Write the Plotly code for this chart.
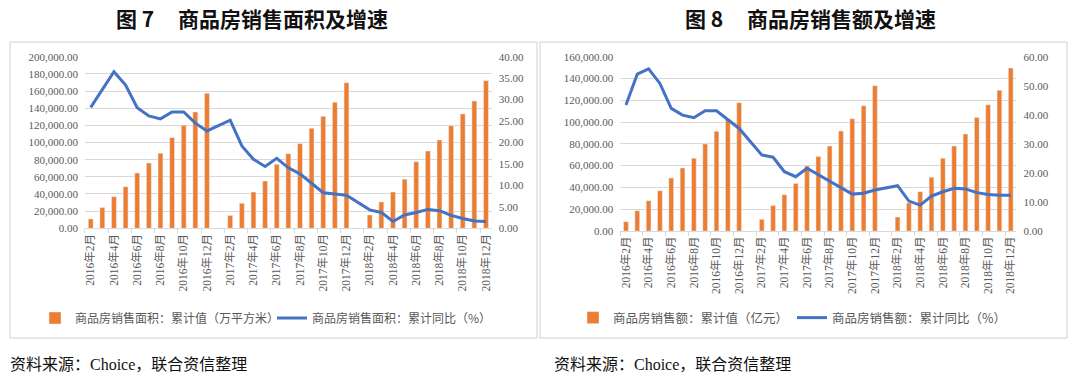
import plotly.graph_objects as go

months = ["2016年2月", "2016年3月", "2016年4月", "2016年5月", "2016年6月", "2016年7月",
          "2016年8月", "2016年9月", "2016年10月", "2016年11月", "2016年12月",
          "2017年1月", "2017年2月", "2017年3月", "2017年4月", "2017年5月", "2017年6月",
          "2017年7月", "2017年8月", "2017年9月", "2017年10月", "2017年11月", "2017年12月",
          "2018年1月", "2018年2月", "2018年3月", "2018年4月", "2018年5月", "2018年6月",
          "2018年7月", "2018年8月", "2018年9月", "2018年10月", "2018年11月", "2018年12月"]

area_cum = [10950, 24100, 36900, 48500, 64500, 76100, 87400, 105600, 120000, 135500, 157300,
            None, 14800, 29100, 42300, 55100, 74600, 87000, 98600, 116500, 130500, 146800, 169700,
            None, 15500, 30700, 42300, 57100, 77700, 90000, 102900, 119600, 133200, 148300, 172000]
area_yoy = [28.2, 32.5, 36.5, 33.4, 28.1, 26.2, 25.5, 27.1, 27.1, 24.5, 22.7,
            None, 25.2, 19.2, 16.1, 14.4, 16.3, 14.1, 12.7, 10.5, 8.3, 8.0, 7.7,
            None, 4.3, 3.7, 1.6, 3.1, 3.7, 4.4, 4.1, 3.0, 2.3, 1.7, 1.6]

sales_cum = [8600, 18700, 27800, 37000, 48600, 57800, 66700, 79800, 91500, 102500, 117800,
             None, 10700, 23300, 33300, 43700, 59700, 68500, 78000, 91800, 103100, 115000, 133400,
             None, 12800, 25700, 36100, 49300, 66700, 78000, 89000, 104300, 115900, 129100, 149600]
sales_yoy = [43.4, 54.0, 55.8, 50.8, 42.2, 39.9, 39.0, 41.4, 41.4, 38.2, 35.3,
             None, 26.2, 25.4, 20.4, 18.7, 21.6, 19.3, 17.0, 14.7, 12.7, 13.0, 14.1,
             None, 15.6, 10.3, 8.9, 12.0, 13.5, 14.7, 14.5, 13.2, 12.6, 12.3, 12.3]

titles = ["图 7     商品房销售面积及增速", "图 8     商品房销售额及增速"]
names1 = ["商品房销售面积：累计值（万平方米）", "商品房销售面积：累计同比（%）"]
names2 = ["商品房销售额：累计值（亿元）", "商品房销售额：累计同比（%）"]
source = "资料来源：Choice，联合资信整理"

ORANGE = "#ED7D31"
BLUE = "#4472C4"
GRID = "#D9D9D9"
TXT = "#595959"
W, H = 1080, 381
CJK = "Noto Sans CJK SC"
SERIF = "Liberation Serif, " + CJK

def px(x):
    return x / W

def py(y):
    return 1 - y / H

fig = go.Figure()
fig.add_trace(go.Bar(x=months, y=area_cum, name=names1[0], marker_color=ORANGE,
                     xaxis="x", yaxis="y", legend="legend"))
fig.add_trace(go.Scatter(x=months, y=area_yoy, name=names1[1], mode="lines",
                         line=dict(color=BLUE, width=3), connectgaps=True,
                         xaxis="x", yaxis="y2", legend="legend"))
fig.add_trace(go.Bar(x=months, y=sales_cum, name=names2[0], marker_color=ORANGE,
                     xaxis="x2", yaxis="y3", legend="legend2"))
fig.add_trace(go.Scatter(x=months, y=sales_yoy, name=names2[1], mode="lines",
                         line=dict(color=BLUE, width=3), connectgaps=True,
                         xaxis="x2", yaxis="y4", legend="legend2"))

tickfont = dict(family=SERIF, size=11, color=TXT)

def xax(domain, anchor):
    return dict(domain=domain, anchor=anchor, type="category", categoryorder="array",
                categoryarray=months, tickmode="linear", tick0=0, dtick=2,
                tickangle=-90, tickfont=dict(family=SERIF, size=11.5, color=TXT),
                showline=True, linecolor=GRID, ticks="outside", tickson="boundaries",
                ticklen=4, tickcolor=GRID, showgrid=False, fixedrange=True,
                automargin=False)

def yax(domain, anchor, rng, dt, fmt):
    return dict(domain=domain, anchor=anchor, range=rng, dtick=dt, tickformat=fmt,
                showgrid=True, gridcolor=GRID, gridwidth=1, zeroline=False,
                tickfont=tickfont, ticklabelstandoff=6, showline=False,
                automargin=False)

def yax_r(overlay, anchor, rng, dt):
    return dict(overlaying=overlay, anchor=anchor, side="right", range=rng, dtick=dt,
                tickformat=".2f", showgrid=False, zeroline=False, tickfont=tickfont,
                ticklabelstandoff=6, showline=False, automargin=False)

dom_x1 = [px(84.9), px(491.8)]
dom_x2 = [px(620.3), px(1016.4)]
dom_y1 = [py(228.3), py(56.7)]
dom_y2 = [py(231.0), py(56.7)]

fig.update_layout(
    width=W, height=H, margin=dict(l=0, r=0, t=0, b=0, autoexpand=False),
    paper_bgcolor="white", plot_bgcolor="white",
    bargap=0.58,
    xaxis=xax(dom_x1, "y"),
    yaxis=yax(dom_y1, "x", [0, 200000], 20000, ",.2f"),
    yaxis2=yax_r("y", "x", [0, 40], 5),
    xaxis2=xax(dom_x2, "y3"),
    yaxis3=yax(dom_y2, "x2", [0, 160000], 20000, ",.2f"),
    yaxis4=yax_r("y3", "x2", [0, 60], 10),
    legend=dict(orientation="h", x=px(35), y=py(318), xanchor="left", yanchor="middle",
                font=dict(family=CJK, size=12, color=TXT), entrywidth=192,
                bgcolor="rgba(0,0,0,0)", itemwidth=30),
    legend2=dict(orientation="h", x=px(573), y=py(318), xanchor="left", yanchor="middle",
                 font=dict(family=CJK, size=12.5, color=TXT), entrywidth=174,
                 bgcolor="rgba(0,0,0,0)", itemwidth=30),
    shapes=[
        dict(type="rect", xref="paper", yref="paper", x0=px(10), x1=px(537),
             y0=py(338), y1=py(42), line=dict(color="#D0D0D0", width=1)),
        dict(type="rect", xref="paper", yref="paper", x0=px(540), x1=px(1067),
             y0=py(338), y1=py(42), line=dict(color="#D0D0D0", width=1)),
    ],
    annotations=[
        dict(text="<b>" + titles[0] + "</b>", xref="paper", yref="paper", x=px(252),
             y=py(18), xanchor="center", yanchor="middle", showarrow=False,
             font=dict(family=CJK, size=21, color="#111111")),
        dict(text="<b>" + titles[1] + "</b>", xref="paper", yref="paper", x=px(810),
             y=py(18), xanchor="center", yanchor="middle", showarrow=False,
             font=dict(family=CJK, size=21, color="#111111")),
        dict(text=source, xref="paper", yref="paper", x=px(8), y=py(364),
             xanchor="left", yanchor="middle", showarrow=False,
             font=dict(family=SERIF, size=16, color="#111111")),
        dict(text=source, xref="paper", yref="paper", x=px(552), y=py(364),
             xanchor="left", yanchor="middle", showarrow=False,
             font=dict(family=SERIF, size=16, color="#111111")),
    ],
)

fig.write_html("out.html", config={"displayModeBar": False},
               post_script="document.body.style.margin='0';document.body.style.overflow='hidden';")
